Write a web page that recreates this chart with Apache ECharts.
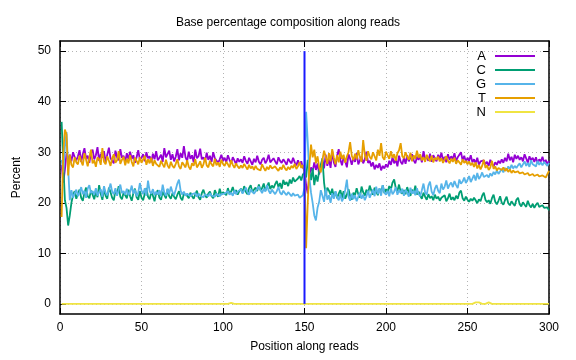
<!DOCTYPE html>
<html>
<head>
<meta charset="utf-8">
<script src="https://cdn.jsdelivr.net/npm/echarts@6/dist/echarts.min.js"></script>
<style>html,body{margin:0;padding:0;background:#fff}#c{width:576px;height:360px}</style>
</head>
<body>
<div id="c"></div>
<script>
const titleText = 'Base percentage composition along reads';
const xName = 'Position along reads';
const yName = 'Percent';
const baseNames = ['A', 'C', 'G', 'T', 'N'];
const xTicks = [0, 50, 100, 150, 200, 250, 300];
const yTicks = [0, 10, 20, 30, 40, 50];
const boundaryPos = 150;
const boundaryRange = [0, 50];

const baseA = [
27.5,24.0,26.5,29.8,28.5,29.5,28.2,30.0,29.0,28.4,
29.2,30.4,28.1,29.6,30.8,28.7,29.3,27.9,29.9,30.5,
28.6,29.4,31.0,28.3,29.7,28.9,30.2,28.0,29.5,30.9,
28.8,29.1,27.8,30.3,29.0,28.4,30.6,28.9,29.3,28.1,
29.8,28.6,30.1,28.7,29.4,27.9,29.0,30.4,28.5,28.9,
29.6,28.2,30.0,28.8,29.2,28.0,29.7,28.6,30.2,28.4,
28.9,29.5,28.1,30.8,29.0,28.7,30.3,28.5,29.6,28.2,
29.1,30.6,28.4,29.8,28.9,31.2,29.0,28.3,30.1,28.7,
29.4,28.0,30.5,28.8,29.2,30.7,28.6,29.0,28.2,29.9,
28.5,29.3,28.1,30.0,28.8,29.1,27.9,28.6,29.5,28.3,
28.9,28.0,29.4,28.5,27.8,29.0,28.4,27.6,28.8,28.1,
28.6,27.9,29.2,28.3,27.7,28.9,28.2,27.5,28.7,28.0,
29.3,28.1,27.6,28.5,28.9,27.8,28.4,29.5,28.0,27.7,
28.8,28.2,27.6,29.0,28.3,27.9,28.6,28.1,27.5,28.7,
28.2,27.8,28.9,28.0,27.4,28.4,27.6,28.2,27.0,26.5,
23.5,21.8,25.5,27.0,26.2,28.0,26.5,27.8,25.6,27.2,
28.4,26.8,29.5,27.3,28.6,26.9,30.2,28.0,27.1,29.3,
30.6,28.5,27.4,29.0,28.2,27.0,29.6,28.7,27.5,28.9,
28.1,29.8,27.6,28.4,29.2,27.8,28.6,30.1,27.9,28.3,
27.2,28.0,26.6,27.5,26.9,27.8,26.4,27.3,26.8,27.6,
27.0,28.3,27.5,29.0,27.8,28.6,27.2,29.3,28.1,27.6,
28.9,27.7,29.4,28.2,27.9,29.6,28.4,27.8,29.1,28.5,
29.3,28.0,30.2,28.6,29.0,28.3,29.7,28.1,29.4,28.8,
28.2,29.5,28.7,29.9,28.4,29.1,28.0,29.6,28.5,29.2,
28.6,29.8,28.3,29.0,28.7,30.0,28.4,29.3,28.1,28.9,
28.3,29.4,28.0,28.6,27.8,28.9,27.5,28.2,27.9,28.4,
27.6,28.1,27.3,28.5,27.7,27.2,28.0,27.5,28.3,27.8,
28.6,27.9,28.9,28.2,29.7,28.4,29.1,28.0,29.5,28.7,
29.3,28.5,29.0,28.2,29.6,28.8,27.9,29.2,28.4,28.9,
28.1,29.0,27.8,28.6,28.2,29.1,27.9,28.5,27.6,28.3
];

const baseC = [
36.0,28.0,20.5,19.0,15.5,17.5,20.0,21.5,22.3,20.8,
21.8,22.6,21.0,20.4,22.0,23.0,21.3,20.9,22.4,21.6,
20.7,22.2,21.1,23.5,21.8,20.6,22.7,21.4,20.8,23.0,
22.1,21.0,20.5,22.4,21.7,23.3,21.2,20.7,22.0,21.5,
20.9,22.6,21.3,20.4,21.9,22.8,21.1,20.6,22.3,21.0,
20.5,21.8,22.9,21.2,20.7,22.1,21.4,20.3,21.9,22.5,
21.0,20.6,22.2,21.5,20.9,22.7,21.3,20.8,21.9,21.2,
20.7,21.6,22.3,21.0,20.5,21.8,22.1,21.4,20.9,22.0,
21.3,20.8,21.7,22.4,21.1,20.6,21.9,22.6,21.5,21.0,
21.8,22.2,21.3,20.9,22.5,21.7,21.2,22.8,21.6,22.1,
22.4,21.5,22.9,21.8,22.2,23.1,21.9,22.5,21.6,22.3,
22.8,22.0,23.3,22.2,21.7,22.9,23.5,22.1,22.6,23.0,
22.3,23.6,22.5,22.9,23.8,22.4,23.2,24.0,22.7,23.4,
22.9,23.7,24.3,23.1,23.9,22.8,24.5,23.6,24.1,23.3,
24.6,23.8,25.0,24.2,23.9,24.8,25.3,24.4,25.6,26.0,
25.0,28.5,26.0,24.5,26.8,23.5,25.5,24.2,26.3,27.5,
28.8,24.0,21.5,23.0,22.4,21.6,22.8,21.1,22.2,20.9,
21.8,22.5,21.0,22.3,20.8,21.6,22.7,21.3,20.6,22.0,
21.5,22.9,21.7,21.0,23.2,22.1,21.4,22.6,21.8,23.4,
22.4,21.6,23.0,22.2,21.5,22.8,22.0,23.5,21.9,22.7,
22.1,23.3,22.6,24.0,24.6,22.9,22.3,23.6,22.2,21.8,
22.5,21.7,23.1,22.0,21.4,22.6,21.9,23.4,21.6,22.2,
21.4,20.8,22.0,21.2,20.6,21.7,20.9,21.3,20.5,21.6,
20.8,21.2,20.4,21.0,20.7,21.5,20.3,20.9,21.8,20.6,
21.1,20.5,21.4,20.8,22.0,22.4,20.9,20.4,21.2,20.6,
20.2,20.8,20.4,21.0,20.5,19.9,20.7,20.3,21.4,22.0,
20.6,20.1,20.5,19.8,20.9,21.6,20.2,19.7,20.4,21.3,
20.0,19.6,20.5,21.2,19.9,19.5,20.3,19.8,19.4,20.6,
21.0,19.7,19.3,20.1,19.6,19.2,20.4,19.5,19.1,19.8,
19.0,19.6,20.0,19.2,18.9,19.5,19.0,18.8,19.1,18.5
];

const baseG = [
28.5,26.0,31.0,34.0,27.0,20.5,22.5,21.0,21.8,22.6,
21.3,22.0,23.1,21.7,22.4,21.0,22.8,23.5,21.9,22.3,
21.6,22.9,21.4,22.1,22.7,21.2,23.3,22.0,21.5,22.6,
23.8,22.2,21.7,22.9,21.4,22.5,23.6,21.9,22.3,21.6,
22.8,21.5,22.1,23.4,21.8,22.6,21.3,22.0,23.9,22.4,
21.7,22.9,21.4,24.4,22.3,21.8,22.7,21.5,22.2,21.6,
22.5,21.3,23.6,22.0,21.4,22.8,21.7,23.2,22.1,21.5,
22.6,23.8,24.6,22.4,21.6,22.2,21.4,21.8,22.0,21.3,
21.7,21.5,21.9,21.2,21.8,21.4,21.6,21.1,21.7,21.5,
21.3,21.9,21.4,21.6,21.2,21.8,21.5,21.3,21.7,21.4,
21.8,21.5,22.3,21.6,22.0,21.4,22.5,21.7,22.2,21.9,
22.7,21.8,22.4,23.0,22.1,21.6,22.6,22.9,21.8,22.3,
22.0,23.2,22.5,21.9,22.8,22.2,23.5,22.4,21.8,22.6,
22.9,21.7,22.3,23.1,22.0,21.6,22.4,21.9,21.5,22.1,
21.7,21.3,21.9,21.4,21.1,21.6,21.0,21.3,21.5,23.0,
38.0,32.0,25.0,22.0,20.0,17.5,16.5,19.0,20.2,22.5,
21.4,20.2,22.8,20.6,21.5,20.0,21.9,20.8,22.3,21.1,
20.5,21.7,20.3,21.0,22.6,24.6,21.2,20.4,21.8,20.7,
21.5,20.3,21.2,22.0,20.8,21.6,20.5,21.3,22.4,21.0,
21.8,22.6,21.3,23.2,21.7,22.9,21.4,23.5,22.0,21.6,
22.4,21.3,22.9,21.7,22.2,23.1,21.6,22.5,21.9,22.8,
21.4,22.6,22.0,21.2,23.0,21.8,22.4,21.5,22.9,21.7,
21.3,22.5,23.8,22.0,21.6,23.4,24.2,22.2,21.5,22.8,
23.5,22.4,21.9,23.8,22.6,23.2,24.4,22.8,23.6,24.0,
23.1,24.3,23.5,22.9,24.6,23.8,24.2,25.0,23.9,24.5,
25.3,24.1,24.8,25.5,24.4,25.9,24.7,25.2,26.0,25.1,
24.9,25.5,25.0,25.8,25.3,26.1,25.6,26.4,25.7,26.2,
26.7,26.0,26.9,26.3,27.2,26.6,27.5,26.8,27.3,26.9,
27.4,27.8,27.0,27.6,28.2,27.3,27.9,27.1,28.4,27.6,
27.8,27.2,28.3,27.5,28.0,27.4,28.1,27.7,27.3,27.9
];

const baseT = [
17.2,30.0,34.5,33.5,25.4,29.5,27.5,27.0,29.0,28.0,
27.6,29.3,28.2,27.4,29.8,28.5,27.2,28.9,30.5,27.8,
28.4,27.1,29.0,28.6,27.5,30.8,28.1,27.6,29.2,28.3,
27.3,28.8,29.6,27.9,28.4,30.2,27.7,28.5,29.1,27.4,
28.7,27.8,29.4,28.1,27.2,28.9,28.3,27.6,29.0,27.9,
28.2,29.3,27.5,28.6,27.8,28.9,27.3,28.4,27.7,28.0,
27.1,28.3,27.6,27.0,28.5,27.4,26.8,28.1,27.3,26.9,
27.7,28.6,27.2,26.7,28.0,27.5,27.0,28.4,27.1,26.6,
27.8,27.3,28.6,27.0,27.5,28.2,26.9,27.6,28.9,27.4,
27.0,28.3,27.6,27.2,28.7,27.4,28.0,27.1,28.5,27.7,
27.3,28.1,27.6,27.0,28.4,27.5,26.9,27.8,27.2,26.8,
27.4,26.9,27.7,27.1,26.6,27.5,26.8,27.2,26.5,27.3,
26.7,27.0,26.4,27.6,26.9,26.3,27.1,26.6,27.4,26.8,
26.5,27.2,26.7,26.3,27.0,26.6,27.5,26.8,26.4,27.1,
26.6,27.3,26.9,27.7,26.7,27.2,28.0,26.9,27.5,26.0,
11.0,20.0,27.5,31.5,29.0,30.5,27.8,29.2,27.0,26.0,
28.5,30.3,29.1,27.7,29.8,28.2,30.6,28.9,27.6,29.4,
28.0,30.1,28.7,29.5,27.9,29.2,30.0,32.0,29.3,28.4,
29.7,28.6,30.4,29.0,28.1,32.4,29.5,28.3,30.2,29.1,
28.6,30.0,29.2,28.4,30.5,29.3,31.8,29.0,28.5,30.1,
29.4,28.7,30.2,28.9,29.6,28.3,29.8,30.4,31.8,29.2,
28.8,30.0,29.1,28.5,29.9,28.2,29.4,28.7,30.3,28.9,
29.6,28.4,29.0,28.1,29.5,28.7,28.2,29.3,28.0,28.9,
28.5,29.1,28.2,28.8,27.9,28.6,29.2,28.3,27.8,28.7,
28.1,28.9,27.7,28.4,28.0,27.5,28.6,27.9,28.3,27.6,
28.2,27.4,27.9,27.1,28.0,26.8,27.5,26.6,27.3,28.5,
26.9,27.4,26.5,27.0,28.3,26.7,27.2,26.4,26.9,26.6,
26.5,27.0,26.3,26.8,26.1,26.6,25.9,26.4,26.0,25.7,
26.2,25.8,25.5,26.0,25.6,25.3,25.9,25.4,25.1,25.7,
25.3,25.0,25.6,25.2,24.9,25.4,25.1,25.0,25.3,26.3
];

const baseN = [
0,0,0,0,0,0,0,0,0,0, 0,0,0,0,0,0,0,0,0,0, 0,0,0,0,0,0,0,0,0,0,
0,0,0,0,0,0,0,0,0,0, 0,0,0,0,0,0,0,0,0,0, 0,0,0,0,0,0,0,0,0,0,
0,0,0,0,0,0,0,0,0,0, 0,0,0,0,0,0,0,0,0,0, 0,0,0,0,0,0,0,0,0,0,
0,0,0,0,0,0,0,0,0,0, 0,0,0,0.2,0.2,0.2,0,0,0,0, 0,0,0,0,0,0,0,0,0,0,
0,0,0,0,0,0,0,0,0,0, 0,0,0,0,0,0,0,0,0,0, 0,0,0,0,0,0,0,0,0,0,
0,0,0,0,0,0,0,0,0,0, 0,0,0,0,0,0,0,0,0,0, 0,0,0,0,0,0,0,0,0,0,
0,0,0,0,0,0,0,0,0,0, 0,0,0,0,0,0,0,0,0,0, 0,0,0,0,0,0,0,0,0,0,
0,0,0,0,0,0,0,0,0,0, 0,0,0,0,0,0,0,0,0,0, 0,0,0,0,0,0,0,0,0,0,
0,0,0,0,0,0,0,0,0,0, 0,0,0,0,0.3,0.3,0.3,0.3,0,0, 0,0.3,0.3,0.3,0,0,0,0,0,0,
0,0,0,0,0,0,0,0,0,0, 0,0,0,0,0,0,0,0,0,0, 0,0,0,0,0,0,0,0,0,0
];

const baseColors = ['#9400d3', '#009e73', '#56b4e9', '#e69f00', '#f0e442'];
const boundaryColor = '#1a1aff';
const FONT = 'Liberation Sans, Arial, sans-serif';

const allSeries = [baseA, baseC, baseG, baseT, baseN];
function toPoints(arr) {
  return arr.map((v, i) => [i + 1, v]);
}

const series = baseNames.map((name, k) => ({
  name: name,
  type: 'line',
  data: toPoints(allSeries[k]),
  showSymbol: false,
  symbol: 'none',
  lineStyle: { color: baseColors[k], width: 1.8 },
  itemStyle: { color: baseColors[k] },
  z: 2 + k
}));
series.push({
  name: 'boundary',
  type: 'line',
  data: [[boundaryPos, boundaryRange[0]], [boundaryPos, boundaryRange[1]]],
  showSymbol: false,
  symbol: 'none',
  lineStyle: { color: boundaryColor, width: 2 },
  z: 10
});

const axisLineStyle = { show: true, onZero: false, lineStyle: { color: '#000', width: 1.5 } };
const tickStyle = { show: true, inside: true, length: 6, lineStyle: { color: '#000', width: 1 } };
const gridStyle = { show: true, lineStyle: { color: '#b4b4b4', width: 1, type: [1, 3] } };

const chart = echarts.init(document.getElementById('c'), null, { renderer: 'canvas' });
chart.setOption({
  animation: false,
  backgroundColor: '#fff',
  title: {
    text: titleText,
    left: 'center',
    top: 12,
    textStyle: { fontFamily: FONT, fontSize: 12, fontWeight: 'normal', color: '#000' }
  },
  legend: {
    data: baseNames,
    orient: 'vertical',
    right: 36,
    top: 44,
    align: 'right',
    icon: 'path://M0,0L0,0M0,6L40,6L40,8L0,8ZM0,14L0,14',
    itemWidth: 40,
    itemHeight: 14,
    itemGap: 0,
    selectedMode: false,
    textStyle: { fontFamily: FONT, fontSize: 13, color: '#000', lineHeight: 14, padding: [0, 4, 0, 0] }
  },
  grid: { left: 60, right: 27, top: 41, bottom: 46 },
  xAxis: [
    {
      type: 'value', min: xTicks[0], max: xTicks[xTicks.length - 1], interval: 50,
      position: 'bottom',
      axisLine: axisLineStyle, axisTick: tickStyle,
      axisLabel: { color: '#000', fontFamily: FONT, fontSize: 12, margin: 8 },
      splitLine: gridStyle,
      name: xName, nameLocation: 'middle', nameGap: 27,
      nameTextStyle: { fontFamily: FONT, fontSize: 12, color: '#000' }
    },
    {
      type: 'value', min: xTicks[0], max: xTicks[xTicks.length - 1], interval: 50,
      position: 'top',
      axisLine: axisLineStyle, axisTick: tickStyle,
      axisLabel: { show: false }, splitLine: { show: false }
    }
  ],
  yAxis: [
    {
      type: 'value', min: -2, max: 52,
      position: 'left',
      axisLine: axisLineStyle,
      axisTick: Object.assign({}, tickStyle, { customValues: yTicks }),
      axisLabel: { color: '#000', fontFamily: FONT, fontSize: 12, margin: 9, customValues: yTicks },
      splitLine: gridStyle,
      name: yName, nameLocation: 'middle', nameGap: 37, nameRotate: 90,
      nameTextStyle: { fontFamily: FONT, fontSize: 12, color: '#000' }
    },
    {
      type: 'value', min: -2, max: 52,
      position: 'right',
      axisLine: axisLineStyle,
      axisTick: Object.assign({}, tickStyle, { customValues: yTicks }),
      axisLabel: { show: false, customValues: yTicks }, splitLine: { show: false }
    }
  ],
  series: series
});
</script>
</body>
</html>
